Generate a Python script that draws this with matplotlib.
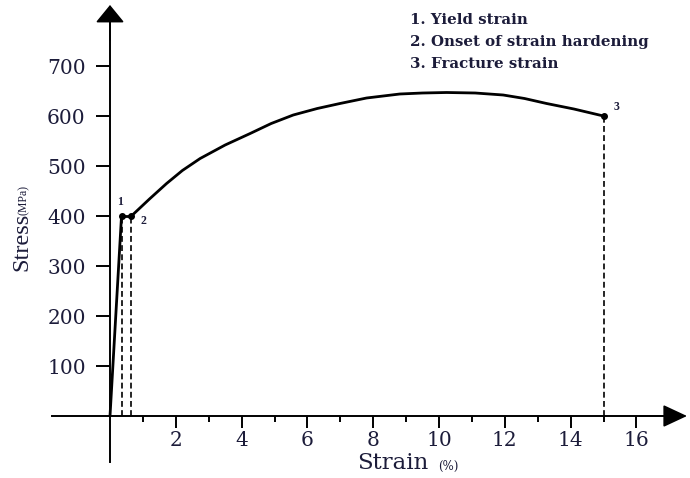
import matplotlib
matplotlib.use("Agg")
import matplotlib.pyplot as plt

# stress-strain data (strain in %, stress in MPa)
elastic_strain = [0.0, 0.35]
elastic_stress = [0, 400]
plateau_strain = [0.35, 0.65]
plateau_stress = [400, 400]
hardening_strain = [0.65, 1.2, 1.72, 2.2, 2.74, 3.5, 4.26, 4.9, 5.57, 6.3, 6.99,
                    7.8, 8.81, 9.5, 10.23, 11.1, 11.95, 12.6, 13.27, 14.1, 15.0]
hardening_stress = [400, 434, 465, 491, 515, 542, 565, 585, 602, 615, 625,
                    636, 644, 646, 647, 646, 642, 635, 625, 614, 600]

# characteristic points: yield, onset of hardening, fracture
key_strain = [0.35, 0.65, 15.0]
key_stress = [400, 400, 600]
key_labels = ["1", "2", "3"]
key_offsets = [(-1, 10), (8.5, -3.5), (9.5, 6.5)]

legend_lines = ["1. Yield strain", "2. Onset of strain hardening", "3. Fracture strain"]

y_ticks = [100, 200, 300, 400, 500, 600, 700]
x_major = [2, 4, 6, 8, 10, 12, 14, 16]
x_minor = [1, 3, 5, 7, 9, 11, 13, 15]

W, H = 690, 478
ORIGIN_X, ORIGIN_Y = 110, 416      # pixel position of (0, 0)
PX_PER_STRAIN = 32.9
PX_PER_MPA = 0.5

TXT = "#1c1c3a"
SERIF = "DejaVu Serif"
TIMES = "Liberation Serif"

fig = plt.figure(figsize=(W / 100, H / 100), dpi=100)
ax = fig.add_axes([0, 0, 1, 1])
ax.set_xlim(-ORIGIN_X / PX_PER_STRAIN, (W - ORIGIN_X) / PX_PER_STRAIN)
ax.set_ylim(-(H - ORIGIN_Y) / PX_PER_MPA, ORIGIN_Y / PX_PER_MPA)
ax.patch.set_visible(False)


def sx(px):
    return (px - ORIGIN_X) / PX_PER_STRAIN


def sy(py):
    return (ORIGIN_Y - py) / PX_PER_MPA


# axes through the origin
for side in ("top", "right"):
    ax.spines[side].set_visible(False)
ax.spines["left"].set_position(("data", 0))
ax.spines["bottom"].set_position(("data", 0))
ax.spines["left"].set_bounds(sy(462), sy(21))
ax.spines["bottom"].set_bounds(sx(52), sx(665))
for side in ("left", "bottom"):
    ax.spines[side].set_linewidth(1.4)

ax.annotate("", xy=(0, sy(5)), xytext=(0, sy(40)),
            arrowprops=dict(arrowstyle="-|>,head_length=1.1,head_width=0.9",
                            mutation_scale=10, lw=1.2, color="k",
                            shrinkA=0, shrinkB=0))
ax.annotate("", xy=(sx(687), 0), xytext=(sx(640), 0),
            arrowprops=dict(arrowstyle="-|>,head_length=1.5,head_width=0.7",
                            mutation_scale=10, lw=1.2, color="k",
                            shrinkA=0, shrinkB=0))

ax.set_yticks(y_ticks)
ax.set_yticklabels([str(v) for v in y_ticks], fontfamily=SERIF, fontsize=14.5, color=TXT)
ax.set_xticks(x_major)
ax.set_xticks(x_minor, minor=True)
ax.set_xticklabels([str(v) for v in x_major], fontfamily=SERIF, fontsize=14.5, color=TXT)
ax.tick_params(axis="y", direction="out", length=10, width=1.4, pad=7.5)
ax.tick_params(axis="x", which="major", direction="out", length=8.5, width=1.4, pad=2)
ax.tick_params(axis="x", which="minor", direction="out", length=4.3, width=1.4)

# stress-strain curve
ax.plot(elastic_strain, elastic_stress, color="k", lw=2.0, solid_capstyle="butt")
ax.plot(plateau_strain, plateau_stress, color="k", lw=2.0)
ax.plot(hardening_strain, hardening_stress, color="k", lw=2.0, solid_joinstyle="round")

# dashed drop lines from the key points
ax.vlines(key_strain, 0, key_stress, colors="k", lw=1.2, linestyles=(0, (3.5, 2)))
ax.plot(key_strain, key_stress, "o", color="k", ms=4)
for xs, ys, lab, off in zip(key_strain, key_stress, key_labels, key_offsets):
    ax.annotate(lab, (xs, ys), xytext=off, textcoords="offset points",
                ha="center", va="center", fontsize=8.5, fontfamily=TIMES,
                fontweight="bold", color=TXT)

# axis titles
fig.text(22 / W, 1 - 242 / H, "Stress", rotation=90, ha="center", va="center",
         fontfamily=TIMES, fontsize=17.5, color=TXT)
fig.text(24 / W, 1 - 200 / H, "(MPa)", rotation=90, ha="center", va="center",
         fontfamily=TIMES, fontsize=8.5, color=TXT)
fig.text(393 / W, 1 - 463 / H, "Strain", ha="center", va="center",
         fontfamily=SERIF, fontsize=16.5, color=TXT)
fig.text(448 / W, 1 - 466 / H, "(%)", ha="center", va="center",
         fontfamily=SERIF, fontsize=8.5, color=TXT)

# key to the numbered points
for i, line in enumerate(legend_lines):
    fig.text(410 / W, 1 - (20 + 22 * i) / H, line, ha="left", va="center",
             fontfamily=SERIF, fontweight="bold", fontsize=10.8, color=TXT)

fig.savefig("out.png", dpi=100)
